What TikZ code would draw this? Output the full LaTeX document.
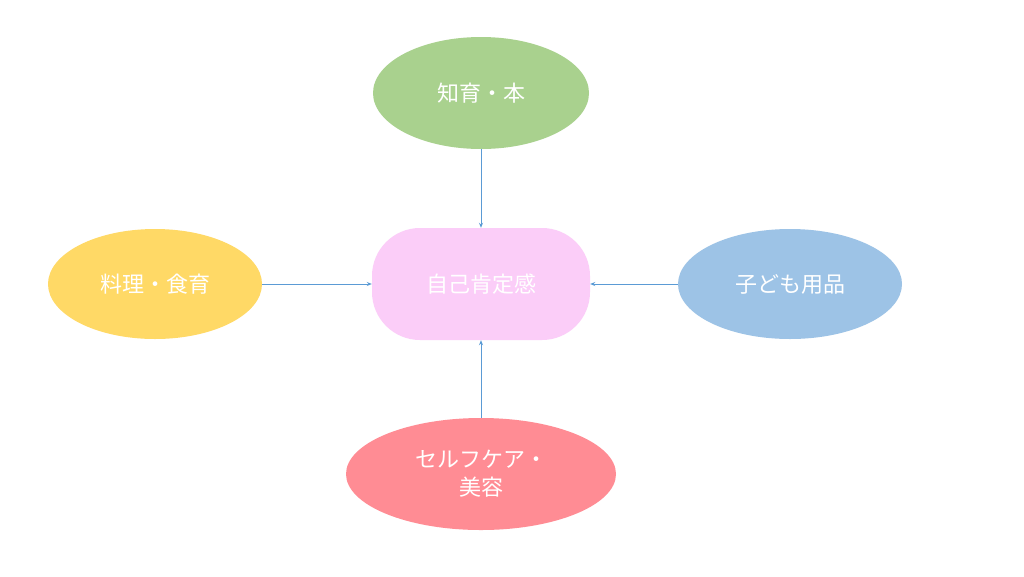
\documentclass[tikz,border=0pt]{standalone}
\usepackage{fontspec}
\newfontfamily\cjk{Noto Sans CJK JP}
\usetikzlibrary{shapes.geometric,arrows.meta}
\definecolor{cg}{HTML}{A9D18E}
\definecolor{cp}{HTML}{FBCDF8}
\definecolor{cy}{HTML}{FFD966}
\definecolor{cb}{HTML}{9DC3E6}
\definecolor{cr}{HTML}{FF8C94}
\definecolor{cl}{HTML}{5B9BD5}
\tikzset{
 oval/.style={ellipse,inner sep=0pt,text=white,font=\cjk\fontsize{22}{28}\selectfont,align=center},
 conn/.style={draw=cl,line width=0.8pt,-{Stealth[length=5pt,width=4pt]}}
}
\begin{document}
\begin{tikzpicture}[x=1pt,y=-1pt]
\useasboundingbox (0,0) rectangle (1024,576);
\fill[white] (0,0) rectangle (1024,576);
\node[oval,fill=cg,minimum width=216,minimum height=112] (top) at (481,93) {知育・本};
\node[draw=none,fill=cp,rounded corners=48pt,minimum width=218,minimum height=112,text=white,font=\cjk\fontsize{22}{28}\selectfont] (c) at (481,284) {自己肯定感};
\node[oval,fill=cy,minimum width=214,minimum height=110] (l) at (155,284) {料理・食育};
\node[oval,fill=cb,minimum width=224,minimum height=110] (r) at (790,284) {子ども用品};
\node[oval,fill=cr,minimum width=270,minimum height=112] (b) at (481,474) {セルフケア・\\美容};
\draw[conn] (top) -- (c);
\draw[conn] (l) -- (c);
\draw[conn] (r) -- (c);
\draw[conn] (b) -- (c);
\end{tikzpicture}
\end{document}
